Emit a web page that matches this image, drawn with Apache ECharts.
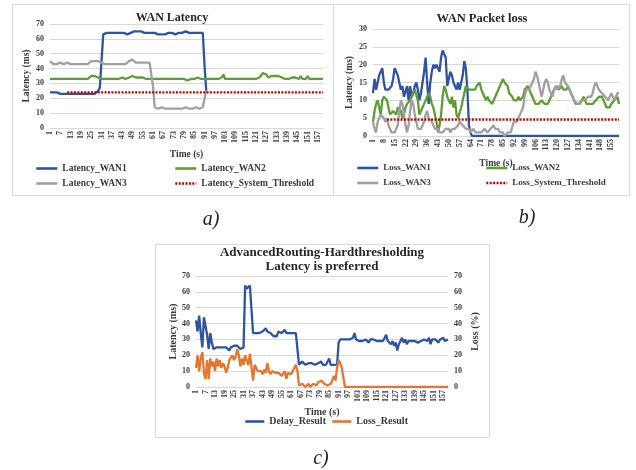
<!DOCTYPE html>
<html>
<head>
<meta charset="utf-8">
<title>WAN latency and packet loss</title>
<script src="https://cdn.jsdelivr.net/npm/echarts@6/dist/echarts.min.js"></script>
<style>
html, body { margin: 0; padding: 0; background: #fff; }
#main { width: 636px; height: 470px; }
</style>
</head>
<body>
<div id="main"></div>
<script>
// time axis, one point per second
var seconds = [];
for (var s = 1; s <= 160; s++) seconds.push(String(s));

// a) WAN latency (ms)
var latencyWan1 = [
    24,23,24,23,24,23,23,24,23,23, 23,24,23,23,23,23,23,23,23,23,
    23,23,23,23,23,23,23,24,25,27, 45,63,64,64,64,64,64,64,64,64,
    64,64,64,64,63,63,63,64,65,65, 66,65,65,65,65,64,64,64,64,64,
    63,64,64,63,64,63,63,63,64,64, 64,64,64,63,64,64,65,64,64,65,
    64,64,65,64,64,64,64,64,64,64, 42,25
];
var latencyWan2 = [
    33,33,33,33,33,33,33,34,33,33, 33,33,33,33,33,33,33,33,33,33,
    33,34,33,33,35,36,35,34,34,34, 33,33,33,33,33,33,33,33,33,33,
    33,33,34,33,33,34,34,35,35,35, 34,33,34,35,34,33,33,34,33,33,
    33,33,33,33,33,33,33,33,33,33, 33,33,33,33,33,33,33,33,33,33,
    32,32,33,33,33,33,34,33,33,33, 33,34,33,33,33,33,33,33,33,33,
    34,36,33,33,33,33,33,33,33,33, 33,33,33,33,33,33,33,33,33,33,
    33,33,34,35,37,38,36,34,34,35, 35,35,34,35,34,34,33,33,34,33,
    33,34,33,34,33,33,35,33,34,33, 35,33,34,33,33,33,33,33,33,33
];
var latencyWan3 = [
    45,44,43,43,43,44,44,43,43,44, 44,43,43,43,43,43,43,43,43,43,
    43,43,43,44,45,46,45,44,45,44, 44,44,43,43,43,43,43,43,43,43,
    43,43,43,43,43,43,45,46,46,45, 44,43,44,44,44,44,44,44,44,44,
    28,14,14,13,13,14,13,13,14,13, 13,13,14,13,13,13,14,13,13,14,
    13,13,14,13,13,14,13,13,13,14, 20,25
];
var latencyThreshold = 24;
var latencyThresholdFrom = '11';

// b) WAN packet loss
var lossWan1 = [
    12,16,13,15,17,18,19,15,13,13, 13,13,14,16,19,18,17,15,13,14,
    11,11,14,10,14,11,12,14,15,13, 10,12,15,18,22,15,9,15,18,20,
    19,20,20,18,22,24,24,22,14,16, 18,17,15,15,13,15,13,13,17,21,
    19,13,3,1,0,0,0,0,0,0, 0,0,0,0,0,0,0,0,0,0,
    0,0,0,0,0,0,0,0,0,0, 0,0,0,0,0,0,0,0,0,0,
    0,0,0,0,0,0,0,0,0,0, 0,0,0,0,0,0,0,0,0,0,
    0,0,0,0,0,0,0,0,0,0, 0,0,0,0,0,0,0,0,0,0,
    0,0,0,0,0,0,0,0,0,0, 0,0,0,0,0,0,0,0,0,0
];
var lossWan2 = [
    4,7,9,10,10,6,10,11,11,10, 8,6,6,7,7,6,8,8,7,5,
    6,8,9,9,10,10,12,13,13,10, 6,7,8,9,10,11,12,11,9,8,
    6,4,1,3,6,11,14,13,11,10, 9,11,8,10,6,5,5,8,10,12,
    14,14,13,13,13,13,13,14,14,15, 13,12,11,10,11,10,10,9,9,11,
    12,13,14,15,16,15,15,14,12,12, 11,10,10,10,11,10,10,11,13,13,
    14,13,13,11,10,9,9,9,9,10, 10,9,9,9,10,11,12,13,13,14,
    13,13,14,13,13,13,14,13,12,11, 10,9,9,9,9,10,11,11,9,9,
    9,9,9,9,10,10,11,11,11,10, 10,8,8,8,9,9,10,10,11,9
];
var lossWan3 = [
    4,2,1,4,5,6,6,5,4,5, 3,2,1,1,1,1,3,7,10,9,
    6,3,1,3,7,10,9,6,4,2, 2,2,3,4,6,7,5,5,4,3,
    2,2,2,1,1,1,1,2,2,2, 1,2,2,2,2,3,4,4,3,3,
    2,2,2,1,1,2,1,1,1,1, 1,1,2,2,1,1,2,2,3,2,
    2,2,1,1,1,0,0,1,1,1, 1,4,4,4,4,6,6,8,11,13,
    13,13,13,15,16,18,17,15,13,11, 13,15,16,15,13,12,11,13,14,13,
    13,14,16,17,15,15,14,13,12,11, 10,10,9,9,9,10,10,10,10,11,
    11,11,12,14,15,14,13,13,12,12, 11,11,10,11,12,12,10,11,12,12
];
var lossThreshold = 4.6;
var lossThresholdFrom = '10';

// c) advanced routing result
var delayResult = [
    42,35,45,34,25,44,44,33,24,34, 28,24,25,25,25,25,25,25,25,25,
    24,23,25,25,26,26,26,25,24,24, 25,64,62,63,64,65,34,35,34,35,
    34,35,35,36,37,35,34,34,33,32, 33,32,35,34,34,35,36,34,34,34,
    34,34,34,34,34,14,15,16,15,14, 14,15,14,15,14,14,13,15,16,16,
    14,14,14,15,18,14,14,14,14,14, 28,30,30,30,30,30,30,30,29,31,
    34,30,31,29,30,29,30,30,29,28, 30,29,30,30,29,30,29,29,29,29,
    33,29,29,27,29,26,28,23,27,29, 31,28,30,27,29,28,29,28,29,29,
    28,29,29,29,30,29,29,31,27,30, 29,30,31,28,30,29,31,29,30,30
];
var lossResult = [
    12,20,10,18,22,9,5,17,5,18, 13,16,10,18,13,17,12,15,13,9,
    12,17,18,20,17,19,24,20,13,18, 14,20,19,14,21,20,4,14,12,10,
    9,10,8,11,9,15,10,8,10,10, 9,8,9,9,7,6,10,5,9,10,
    8,9,12,14,10,1,0,2,3,0, 1,2,0,1,2,1,1,3,2,4,
    4,2,2,1,1,2,3,7,4,12, 17,15,12,12,0,0,0,0,0,0,
    0,0,0,0,0,0,0,0,0,0, 0,0,0,0,0,0,0,0,0,0,
    0,0,0,0,0,0,0,0,0,0, 0,0,0,0,0,0,0,0,0,0,
    0,0,0,0,0,0,0,0,0,0, 0,0,0,0,0,0,0,0,0,0
];

var FONT = 'Liberation Serif';
var TXT = '#3a3a3a';
var GRID_LINE = '#d9d9d9';
var BLUE = '#2F54A1', GREEN = '#5E9D35', GRAY = '#A0A0A0', RED = '#C00000', ORANGE = '#E4772F';

function font(size, extra) {
    var o = { fontFamily: FONT, fontSize: size, fontWeight: 'bold', color: TXT };
    for (var k in extra) o[k] = extra[k];
    return o;
}

function timeAxis(gridIndex, interval, nameGap) {
    return {
        type: 'category',
        gridIndex: gridIndex,
        data: seconds,
        boundaryGap: false,
        name: 'Time (s)',
        nameLocation: 'middle',
        nameGap: nameGap,
        nameTextStyle: font(gridIndex == 2 ? 10 : 9.5),
        axisLine: { lineStyle: { color: GRID_LINE } },
        axisTick: { show: false },
        axisLabel: { interval: interval, rotate: 90, margin: 3, fontFamily: FONT, fontSize: 8, fontWeight: 'bold', color: TXT }
    };
}

function valueAxis(gridIndex, name, max, interval, nameGap, pos) {
    return {
        type: 'value',
        gridIndex: gridIndex,
        position: pos || 'left',
        min: 0,
        max: max,
        interval: interval,
        name: name,
        nameLocation: 'middle',
        nameGap: nameGap,
        nameTextStyle: font(gridIndex == 2 ? 10 : 9.5),
        axisLine: { show: false },
        axisTick: { show: false },
        axisLabel: { margin: 6, fontFamily: FONT, fontSize: 8, fontWeight: 'bold', color: TXT },
        splitLine: { show: pos != 'right', lineStyle: { color: GRID_LINE } }
    };
}

function line(name, data, color, xi, yi, dotted) {
    return {
        name: name,
        type: 'line',
        xAxisIndex: xi,
        yAxisIndex: yi,
        data: data,
        symbol: 'none',
        color: color,
        lineStyle: dotted ? { width: 2.4, color: color, type: [2, 1.4] } : { width: 2.3, color: color },
        animation: false
    };
}

// one legend per entry so the 2x2 layout can be placed exactly
function legendItem(name, left, top, size, w) {
    return {
        data: [name],
        left: left,
        top: top,
        padding: 0,
        itemWidth: w || 21,
        itemHeight: 10,
        selectedMode: false,
        itemStyle: { opacity: 0 },
        lineStyle: { width: 2.6 },
        textStyle: font(size)
    };
}

var chart = echarts.init(document.getElementById('main'));
var option = {
    backgroundColor: '#fff',
    animation: false,
    title: [
        { text: 'WAN Latency', left: 172, top: 18, padding: 0, textAlign: 'center', textVerticalAlign: 'middle',
          textStyle: font(12, { color: '#262626' }) },
        { text: 'WAN Packet loss', left: 482, top: 19, padding: 0, textAlign: 'center', textVerticalAlign: 'middle',
          textStyle: font(12.5, { color: '#262626' }) },
        { text: 'AdvancedRouting-Hardthresholding\nLatency is preferred', left: 322, top: 259.5, padding: 0,
          textAlign: 'center', textVerticalAlign: 'middle', textStyle: font(13, { color: '#262626', lineHeight: 13.5 }) }
    ],
    grid: [
        { left: 50, top: 24, width: 273, height: 104 },
        { left: 373, top: 29, width: 246, height: 107 },
        { left: 196, top: 276, width: 252, height: 111 }
    ],
    xAxis: [
        timeAxis(0, 5, 22),
        timeAxis(1, 6, 23),
        timeAxis(2, 5, 20)
    ],
    yAxis: [
        valueAxis(0, 'Latency (ms)', 70, 10, 18),
        valueAxis(1, 'Latency (ms)', 30, 5, 18),
        valueAxis(2, 'Latency (ms)', 70, 10, 18),
        valueAxis(2, 'Loss (%)', 70, 10, 22, 'right')
    ],
    legend: [
        legendItem('Latency_WAN1', 35, 163.5, 9.5),
        legendItem('Latency_WAN2', 174, 163.5, 9.5),
        legendItem('Latency_WAN3', 35, 178.5, 9.5),
        legendItem('Latency_System_Threshold', 174, 178.5, 9.5),
        legendItem('Loss_WAN1', 356, 163.5, 9),
        legendItem('Loss_WAN2', 485, 163.5, 9),
        legendItem('Loss_WAN3', 356, 178.5, 9),
        legendItem('Loss_System_Threshold', 485, 178.5, 9),
        legendItem('Delay_Result', 244, 416.5, 10, 19),
        legendItem('Loss_Result', 331, 416.5, 10, 19)
    ],
    series: [
        line('Latency_WAN1', latencyWan1, BLUE, 0, 0),
        line('Latency_WAN2', latencyWan2, GREEN, 0, 0),
        line('Latency_WAN3', latencyWan3, GRAY, 0, 0),
        line('Latency_System_Threshold',
            [[latencyThresholdFrom, latencyThreshold], [seconds[seconds.length - 1], latencyThreshold]], RED, 0, 0, true),
        line('Loss_WAN1', lossWan1, BLUE, 1, 1),
        line('Loss_WAN2', lossWan2, GREEN, 1, 1),
        line('Loss_WAN3', lossWan3, GRAY, 1, 1),
        line('Loss_System_Threshold',
            [[lossThresholdFrom, lossThreshold], [seconds[seconds.length - 1], lossThreshold]], RED, 1, 1, true),
        line('Delay_Result', delayResult, BLUE, 2, 2),
        line('Loss_Result', lossResult, ORANGE, 2, 3)
    ],
    graphic: [
        // panel frames
        { type: 'rect', silent: true, shape: { x: 12.5, y: 4.5, width: 617, height: 191 },
          style: { fill: 'none', stroke: GRID_LINE, lineWidth: 1 } },
        { type: 'line', silent: true, shape: { x1: 333.5, y1: 4.5, x2: 333.5, y2: 195.5 },
          style: { stroke: GRID_LINE, lineWidth: 1 } },
        { type: 'rect', silent: true, shape: { x: 155.5, y: 244.5, width: 334, height: 193 },
          style: { fill: 'none', stroke: GRID_LINE, lineWidth: 1 } },
        // panel captions
        { type: 'text', x: 211, y: 220, style: { text: 'a)', font: 'italic 20px "Liberation Serif"', fill: '#222', align: 'center', verticalAlign: 'middle' } },
        { type: 'text', x: 527, y: 218, style: { text: 'b)', font: 'italic 20px "Liberation Serif"', fill: '#222', align: 'center', verticalAlign: 'middle' } },
        { type: 'text', x: 321, y: 459, style: { text: 'c)', font: 'italic 20px "Liberation Serif"', fill: '#222', align: 'center', verticalAlign: 'middle' } }
    ]
};
chart.setOption(option);
</script>
</body>
</html>
